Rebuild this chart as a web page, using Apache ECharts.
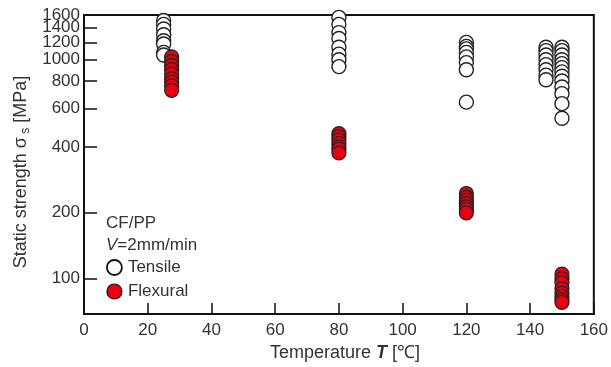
<!DOCTYPE html>
<html>
<head>
<meta charset="utf-8">
<script src="https://cdn.jsdelivr.net/npm/echarts@6/dist/echarts.min.js"></script>
<style>
  html, body { margin: 0; padding: 0; background: #fff; }
  #chart { width: 611px; height: 367px; }
</style>
</head>
<body>
<div id="chart"></div>
<script>
// Static strength of CF/PP at each test temperature (MPa)
const tensileT25 = [1510, 1450, 1380, 1300, 1220, 1180, 1080, 1050];
const tensileT80 = [1560, 1450, 1330, 1250, 1140, 1060, 1000, 930];
const tensileT120 = [1200, 1150, 1120, 1080, 1030, 970, 900, 640];
const tensileT145 = [1140, 1100, 1050, 1000, 950, 900, 850, 810];
const tensileT150 = [1140, 1100, 1050, 1000, 960, 920, 880, 840, 800, 750, 700, 630, 540];

const flexuralT27 = [1030, 980, 940, 900, 860, 820, 790, 760, 725];
const flexuralT80 = [460, 445, 430, 415, 400, 390, 375];
const flexuralT120 = [245, 235, 228, 220, 213, 207, 200];
const flexuralT150 = [105, 100, 96, 90, 86, 83, 80, 78];

// Stress axis labels are split over two stacked axes so the tightly
// packed upper labels (1200 / 1400 / 1600) all stay visible.
const yTickLabels = [100, 200, 400, 600, 800, 1000, 1400];
const yExtraLabels = [1200, 1600];
const yTickMarks = [100, 200, 400, 600, 800, 1000, 1200, 1400];
const yMin = 69;
const yMax = 1600;

function pairs(temp, values) {
  return values.map(v => [temp, v]);
}

const tensileData = [].concat(
  pairs(25, tensileT25),
  pairs(80, tensileT80),
  pairs(120, tensileT120),
  pairs(145, tensileT145),
  pairs(150, tensileT150)
);
const flexuralData = [].concat(
  pairs(27.5, flexuralT27),
  pairs(80, flexuralT80),
  pairs(120, flexuralT120),
  pairs(150, flexuralT150)
);

const FONT = '"Liberation Sans", Arial, sans-serif';
const TXT = '#333';

const yLabelStyle = {
  fontFamily: FONT, fontSize: 17, color: TXT, margin: 4, lineHeight: 11,
  interval: 0, showMaxLabel: true, showMinLabel: true, hideOverlap: false,
  formatter: v => String(Math.round(v))
};

const chart = echarts.init(document.getElementById('chart'));
chart.setOption({
  animation: false,
  backgroundColor: '#fff',
  grid: {
    left: 84, right: 12, top: 15, bottom: 53,
    show: true, borderColor: '#111', borderWidth: 2
  },
  xAxis: {
    type: 'value', min: 0, max: 160, interval: 20,
    name: '{n|Temperature }{b|T}{n| [℃]}',
    nameLocation: 'middle', nameGap: 30,
    nameTextStyle: {
      padding: [0, 0, 0, 12],
      rich: {
        n: { fontFamily: FONT, fontSize: 18, color: TXT },
        b: { fontFamily: FONT, fontSize: 18, color: TXT, fontWeight: 'bold', fontStyle: 'italic' }
      }
    },
    axisLine: { lineStyle: { color: '#111', width: 2 } },
    axisTick: { inside: true, length: 11, lineStyle: { color: '#111', width: 1.5 } },
    axisLabel: { fontFamily: FONT, fontSize: 17, color: TXT, margin: 8 },
    splitLine: { show: false }
  },
  yAxis: [
    {
      type: 'log', logBase: 10, min: yMin, max: yMax, position: 'left',
      axisLine: { show: true, lineStyle: { color: '#111', width: 2 } },
      axisTick: {
        inside: true, length: 13, customValues: yTickMarks,
        lineStyle: { color: '#111', width: 1.5 }
      },
      axisLabel: Object.assign({ customValues: yTickLabels }, yLabelStyle),
      splitLine: { show: false },
      minorTick: { show: false }
    },
    {
      type: 'log', logBase: 10, min: yMin, max: yMax, position: 'left', offset: 0,
      axisLine: { show: false },
      axisTick: { show: false },
      axisLabel: Object.assign({ customValues: yExtraLabels }, yLabelStyle),
      splitLine: { show: false },
      minorTick: { show: false }
    }
  ],
  legend: {
    orient: 'vertical', left: 106, top: 259, padding: 0,
    itemWidth: 15, itemHeight: 15, itemGap: 7,
    textStyle: { fontFamily: FONT, fontSize: 17, color: TXT, padding: [0, 0, 0, 1] },
    data: [
      { name: 'Tensile', icon: 'circle', itemStyle: { color: '#fff', borderColor: '#111', borderWidth: 1.8 } },
      { name: 'Flexural', icon: 'circle', itemStyle: { color: '#e60012', borderColor: '#111', borderWidth: 1.2 } }
    ]
  },
  graphic: [
    {
      type: 'text', left: 106, top: 215,
      style: { text: 'CF/PP', font: '17px ' + FONT, fill: TXT }
    },
    {
      type: 'text', left: 106, top: 237,
      style: {
        text: '{i|V}{n|=2mm/min}',
        rich: {
          i: { fontFamily: FONT, fontSize: 17, fontStyle: 'italic', fill: TXT },
          n: { fontFamily: FONT, fontSize: 17, fill: TXT }
        }
      }
    },
    {
      // y-axis title, rotated to read bottom-to-top
      type: 'text', x: 21, y: 172, rotation: Math.PI / 2,
      style: {
        text: '{n|Static strength σ}{s| s}{n| [MPa]}',
        align: 'center', verticalAlign: 'middle',
        rich: {
          n: { fontFamily: FONT, fontSize: 18, fill: TXT, lineHeight: 22 },
          s: { fontFamily: FONT, fontSize: 12, fill: TXT, verticalAlign: 'bottom', lineHeight: 22 }
        }
      }
    }
  ],
  series: [
    {
      name: 'Tensile', type: 'scatter', symbol: 'circle', symbolSize: 14,
      yAxisIndex: 0,
      data: tensileData,
      itemStyle: { color: '#fff', borderColor: '#222', borderWidth: 1.4, opacity: 1 },
      emphasis: { disabled: true }
    },
    {
      name: 'Flexural', type: 'scatter', symbol: 'circle', symbolSize: 14,
      yAxisIndex: 0,
      data: flexuralData,
      itemStyle: { color: '#e60012', borderColor: '#222', borderWidth: 1.2, opacity: 1 },
      emphasis: { disabled: true }
    }
  ]
});
</script>
</body>
</html>
